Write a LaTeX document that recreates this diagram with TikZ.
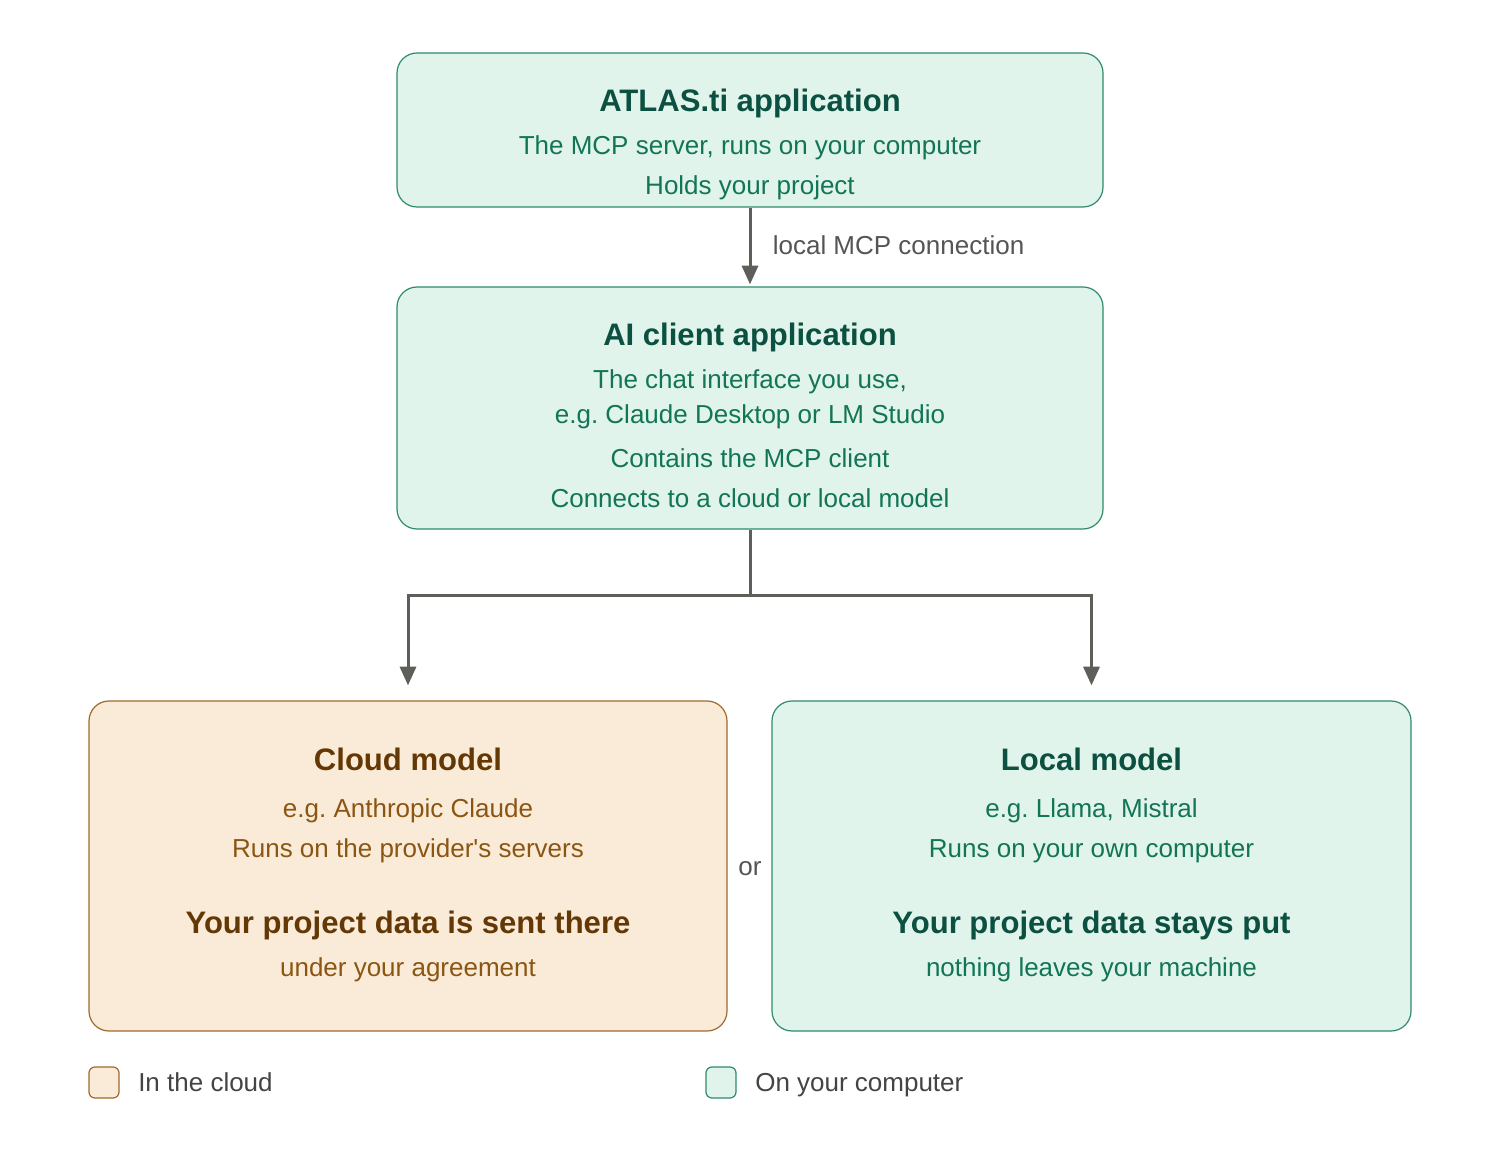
\documentclass[tikz,border=0pt]{standalone}
\usepackage{fontspec}
\setmainfont{Liberation Sans}
\usetikzlibrary{arrows.meta}
\frenchspacing

\definecolor{greenfill}{HTML}{E1F4EC}
\definecolor{greenline}{HTML}{2E8B6E}
\definecolor{greentitle}{HTML}{0B5040}
\definecolor{greentext}{HTML}{127556}
\definecolor{cloudfill}{HTML}{FAEBD8}
\definecolor{cloudline}{HTML}{9E6B2A}
\definecolor{cloudtitle}{HTML}{633805}
\definecolor{cloudtext}{HTML}{8B5512}
\definecolor{arrowgray}{HTML}{5F5E5A}
\definecolor{labelgray}{HTML}{555555}

\begin{document}
\begin{tikzpicture}[x=0.75pt, y=-0.75pt,
	greenbox/.style={draw=greenline, fill=greenfill, line width=0.9pt, rounded corners=15pt},
	cloudbox/.style={draw=cloudline, fill=cloudfill, line width=0.9pt, rounded corners=15pt},
	head/.style={font=\fontsize{23.3}{28}\selectfont\bfseries, anchor=base, inner sep=0pt},
	body/.style={font=\fontsize{19.5}{23}\selectfont, anchor=base, inner sep=0pt},
	flow/.style={draw=arrowgray, line width=2.25pt, -{Triangle[length=14pt,width=12pt]}}]
		\useasboundingbox[fill=white] (0,0) rectangle (1500,1151);

		% boxes
		\node[greenbox, minimum width=529.5pt, minimum height=115.5pt] (atlas)  at (750, 130) {};
		\node[greenbox, minimum width=529.5pt, minimum height=181.5pt] (client) at (750, 408) {};
		\node[cloudbox, minimum width=478.5pt, minimum height=247.5pt] (cloud)  at (408, 866) {};
		\node[greenbox, minimum width=479.25pt, minimum height=247.5pt] (local) at (1091.5, 866) {};

		% box texts
		\node[head, greentitle] (atlasT)  at (750, 112) {ATLAS.ti application};
		\node[body, greentext]  (atlasA)  at (750, 155) {The MCP server, runs on your computer};
		\node[body, greentext]  (atlasB)  at (750, 195) {Holds your project};

		\node[head, greentitle] (clientT) at (750, 346) {AI client application};
		\node[body, greentext]  (clientA) at (750, 389) {The chat interface you use,};
		\node[body, greentext]  (clientB) at (750, 424) {e.g. Claude Desktop or LM Studio};
		\node[body, greentext]  (clientC) at (750, 468) {Contains the MCP client};
		\node[body, greentext]  (clientD) at (750, 508) {Connects to a cloud or local model};

		\node[head, cloudtitle] (cloudT)  at (408, 770) {Cloud model};
		\node[body, cloudtext]  (cloudA)  at (408, 817) {e.g. Anthropic Claude};
		\node[body, cloudtext]  (cloudB)  at (408, 857) {Runs on the provider\textquotesingle s servers};
		\node[head, cloudtitle] (cloudC)  at (408, 933) {Your project data is sent there};
		\node[body, cloudtext]  (cloudD)  at (408, 976) {under your agreement};

		\node[head, greentitle] (localT)  at (1091.5, 770) {Local model};
		\node[body, greentext]  (localA)  at (1091.5, 817) {e.g. Llama, Mistral};
		\node[body, greentext]  (localB)  at (1091.5, 857) {Runs on your own computer};
		\node[head, greentitle] (localC)  at (1091.5, 933) {Your project data stays put};
		\node[body, greentext]  (localD)  at (1091.5, 976) {nothing leaves your machine};

		\node[body, labelgray] (orlabel) at (750, 875) {or};

		% connectors
		\draw[flow, shorten >=1.5pt] (atlas.south) -- (client.north)
			node[body, labelgray, anchor=base west, pos=0.55, xshift=16pt, yshift=-2.5pt] (mcplabel) {local MCP connection};
		\draw[flow, shorten >=11.25pt] (client.south) -- ++(0,66) -| (cloud.north);
		\draw[flow, shorten >=11.25pt] (client.south) -- ++(0,66) -| (local.north);

		% legend
		\node[cloudbox, rounded corners=4.5pt, minimum width=22.5pt, minimum height=23.25pt] (legcloud) at (104, 1082.5) {};
		\node[body, labelgray!80!black, anchor=base west] (legcloudT) at (138, 1091) {In the cloud};
		\node[greenbox, rounded corners=4.5pt, minimum width=22.5pt, minimum height=23.25pt] (leglocal) at (721, 1082.5) {};
		\node[body, labelgray!80!black, anchor=base west] (leglocalT) at (755, 1091) {On your computer};
\end{tikzpicture}
\end{document}
